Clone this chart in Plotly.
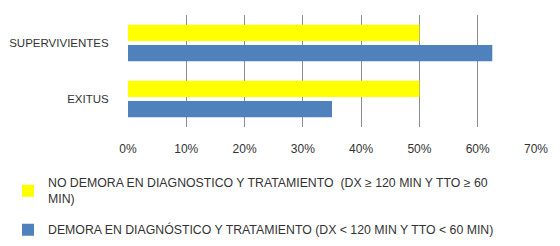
import plotly.graph_objects as go

categories = ["EXITUS", "SUPERVIVIENTES"]
series_names = [
    "NO DEMORA EN DIAGNOSTICO Y TRATAMIENTO  (DX ≥ 120 MIN Y TTO ≥ 60<br>MIN)",
    "DEMORA EN DIAGNÓSTICO Y TRATAMIENTO (DX < 120 MIN Y TTO < 60 MIN)",
]
no_demora = [0.50, 0.50]
demora = [0.35, 0.625]
tick_vals = [0, 0.1, 0.2, 0.3, 0.4, 0.5, 0.6, 0.7]
tick_text = ["0%", "10%", "20%", "30%", "40%", "50%", "60%", "70%"]

font_family = "Liberation Sans, Arial, sans-serif"
text_color = "#333333"

fig = go.Figure()
fig.add_trace(go.Bar(
    y=categories, x=demora, orientation="h", name=series_names[1],
    marker=dict(color="#4F81BD", line=dict(width=0)), legendgroup="b",
    legendrank=2,
))
fig.add_trace(go.Bar(
    y=categories, x=no_demora, orientation="h", name=series_names[0],
    marker=dict(color="#FFFF00", line=dict(width=0)), legendgroup="a",
    legendrank=1,
))

fig.update_layout(
    width=560, height=246,
    margin=dict(l=120, r=32, t=7, b=127, autoexpand=False),
    paper_bgcolor="white", plot_bgcolor="white",
    barmode="group", bargap=0.28, bargroupgap=0.2,
    font=dict(family=font_family, size=12, color=text_color),
    showlegend=True,
    legend=dict(
        orientation="v", xref="container", yref="container",
        x=0.0, xanchor="left", y=0.349, yanchor="top",
        traceorder="grouped", tracegroupgap=12,
        font=dict(size=12.3, color=text_color),
        itemwidth=30,
        bgcolor="rgba(0,0,0,0)",
    ),
    xaxis=dict(
        range=[0, 0.7], tickvals=tick_vals, ticktext=tick_text,
        showgrid=True, gridcolor="#8C8C8C", gridwidth=1,
        zeroline=False, showline=False, automargin=False,
        ticks="outside", ticklen=11, tickcolor="rgba(0,0,0,0)",
        tickfont=dict(size=12, color=text_color),
    ),
    yaxis=dict(
        showgrid=False, zeroline=False, showline=False, automargin=False,
        ticks="outside", ticklen=16, tickcolor="rgba(0,0,0,0)",
        tickfont=dict(size=11.5, color=text_color),
    ),
)

fig.write_html("out.html")
